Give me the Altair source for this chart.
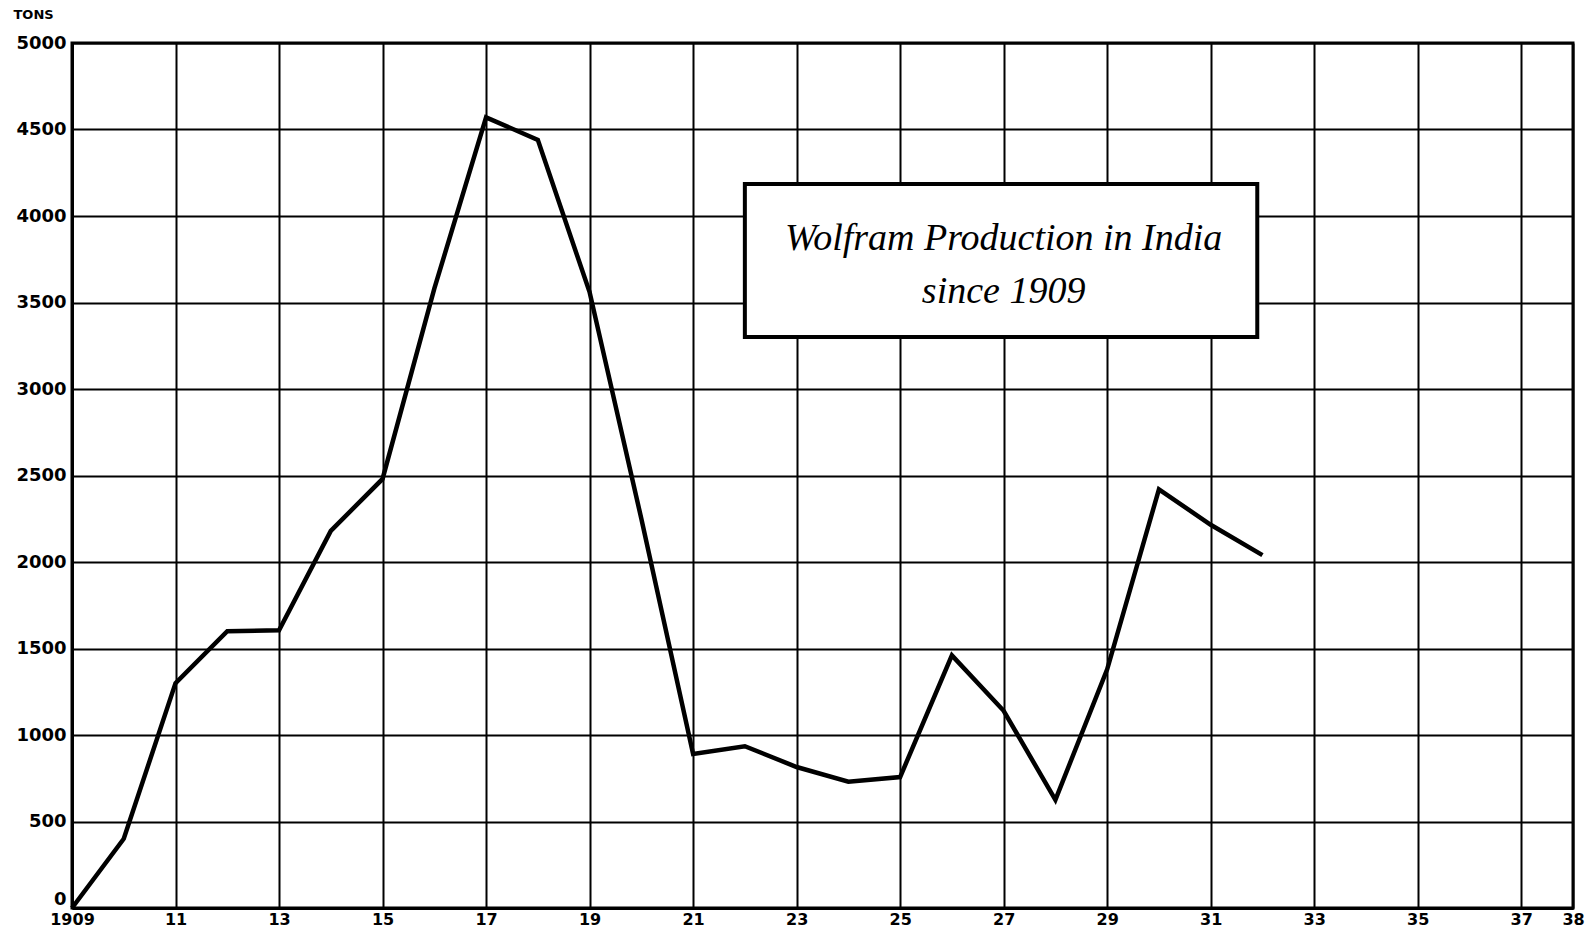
import altair as alt
import pandas as pd

years = list(range(1909, 1933))
tons = [0, 400, 1300, 1600, 1605, 2180, 2480, 3580, 4570, 4440, 3560, 2250,
        890, 935, 815, 730, 757, 1460, 1140, 625, 1380, 2420, 2215, 2040]

x_tick_values = [1909, 1911, 1913, 1915, 1917, 1919, 1921, 1923, 1925, 1927,
                 1929, 1931, 1933, 1935, 1937, 1938]
x_tick_labels = ["1909", "11", "13", "15", "17", "19", "21", "23", "25", "27",
                 "29", "31", "33", "35", "37", "38"]
y_tick_values = [0, 500, 1000, 1500, 2000, 2500, 3000, 3500, 4000, 4500, 5000]

title_lines = ["Wolfram Production in India", "since 1909"]
title_line_x = [1927, 1927]
title_line_y = [3805, 3495]
box_x = [1922.0]
box_x2 = [1931.9]
box_y = [3300]
box_y2 = [4185]

label_expr = "''"
for v, lab in zip(reversed(x_tick_values), reversed(x_tick_labels)):
    label_expr = f"datum.value == {v} ? '{lab}' : ({label_expr})"

df = pd.DataFrame({"year": years, "tons": tons})
box_df = pd.DataFrame({"x": box_x, "x2": box_x2, "y": box_y, "y2": box_y2})
txt_df = pd.DataFrame({"t": title_lines, "x": title_line_x, "y": title_line_y})

xscale = alt.Scale(domain=[1909, 1938], nice=False, zero=False)
yscale = alt.Scale(domain=[0, 5000], nice=False)

FONT = "DejaVu Sans"

line = alt.Chart(df).mark_line(color="black", strokeWidth=4.5, strokeJoin="miter").encode(
    x=alt.X("year:Q", scale=xscale,
            axis=alt.Axis(values=x_tick_values, labelExpr=label_expr, title=None,
                          grid=True, gridColor="black", gridWidth=2, gridOpacity=1,
                          domain=True, domainColor="black", domainWidth=3,
                          ticks=False, labelPadding=3, labelFont=FONT,
                          labelFontSize=16, labelFontWeight="bold", labelColor="black",
                          labelFlush=False, labelOverlap=False)),
    y=alt.Y("tons:Q", scale=yscale,
            axis=alt.Axis(values=y_tick_values, format="d", title="TONS", titleAngle=0,
                          titleAlign="left", titleBaseline="alphabetic",
                          titleX=-59, titleY=-25, titleFont=FONT, titleFontSize=13,
                          titleFontWeight="bold", titleColor="black",
                          grid=True, gridColor="black", gridWidth=2, gridOpacity=1,
                          domain=True, domainColor="black", domainWidth=3,
                          ticks=False, labelPadding=6, labelFont=FONT,
                          labelFontSize=18, labelFontWeight="bold", labelColor="black",
                          labelBaseline={"condition": {"test": "datum.value == 0", "value": "bottom"},
                                         "value": "middle"},
                          labelFlush=False, labelOverlap=False)),
)

box = alt.Chart(box_df).mark_rect(fill="white", stroke="black", strokeWidth=4).encode(
    x=alt.X("x:Q", scale=xscale), x2="x2:Q",
    y=alt.Y("y:Q", scale=yscale), y2="y2:Q",
)

text = alt.Chart(txt_df).mark_text(font="Liberation Serif", fontStyle="italic",
                                   fontSize=38, color="black", align="center",
                                   baseline="alphabetic").encode(
    x=alt.X("x:Q", scale=xscale),
    y=alt.Y("y:Q", scale=yscale),
    text="t:N",
)

chart = alt.layer(line, box, text).properties(
    width=1501, height=865,
    autosize=alt.AutoSizeParams(type="none"),
    padding={"left": 64, "top": 35, "right": 12, "bottom": 20},
    background="white",
).configure_view(stroke="black", strokeWidth=3)

chart.save("out.html", embed_options={"renderer": "svg", "actions": False})
